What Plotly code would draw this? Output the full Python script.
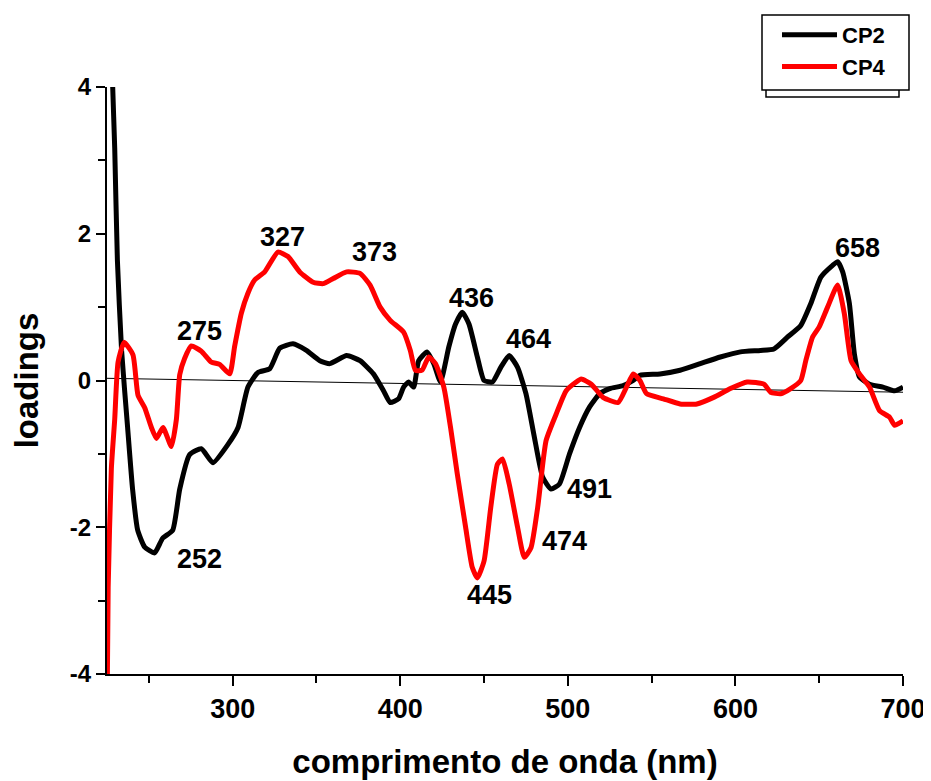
import plotly.graph_objects as go

# ---- data ----
wl_cp2 = [225, 228.4, 229.6, 231.2, 233.7, 237.3, 240.3, 243.3, 247.5, 253.4,
          258.2, 264.2, 268.4, 274.3, 281.3, 288.2, 297.2, 303.2, 309.1, 315.1,
          322.1, 328.1, 336, 344, 352, 358, 368, 376, 384, 390,
          394, 399, 402, 405, 408, 411, 416, 420, 424, 429,
          433, 437, 441, 446, 450, 455, 460, 465, 470, 475,
          480, 485, 490, 495, 501, 507, 513, 519, 525, 533,
          539, 543, 555, 567, 579, 591, 603, 615, 623, 631,
          639, 645, 651, 658, 661, 664, 668, 671, 674, 680,
          688, 695, 700]
cp2 = [7.0, 4.0, 3.17, 1.64, 0.41, -0.64, -1.49, -2.04, -2.27, -2.35,
       -2.15, -2.04, -1.48, -1.01, -0.93, -1.12, -0.87, -0.64, -0.09, 0.11,
       0.16, 0.44, 0.5, 0.41, 0.27, 0.23, 0.34, 0.27, 0.09, -0.14,
       -0.3, -0.25, -0.09, -0.02, -0.09, 0.27, 0.39, 0.23, -0.02, 0.46,
       0.77, 0.93, 0.77, 0.32, 0.0, -0.02, 0.18, 0.34, 0.18, -0.18,
       -0.77, -1.32, -1.48, -1.41, -1.0, -0.64, -0.36, -0.18, -0.11, -0.07,
       0.0, 0.07, 0.09, 0.14, 0.23, 0.32, 0.39, 0.41, 0.43, 0.59,
       0.75, 1.05, 1.41, 1.57, 1.62, 1.48, 1.05, 0.36, 0.05, -0.05,
       -0.09, -0.14, -0.09]

wl_cp4 = [225, 225.7, 227.6, 229.6, 231.6, 235.2, 240.5, 243.5, 247.5, 251.5,
          254.5, 258.4, 263.4, 266.4, 268.4, 271.3, 275.3, 281.3, 287.3, 292.2,
          298.2, 301.2, 305.2, 309.1, 313.1, 319.1, 327, 333, 340, 348,
          354, 360, 368, 376, 382, 388, 394, 402, 406, 409,
          413, 417, 421, 426, 430, 434, 439, 443, 446, 450,
          454, 458, 461, 465, 470, 474, 478, 482, 487, 493,
          499, 505, 508, 514, 521, 530, 535, 539, 543, 547,
          557, 567, 577, 587, 597, 607, 617, 621, 627, 633,
          639, 642, 646, 650, 655, 661, 665, 669, 674, 680,
          686, 692, 695, 700]
cp4 = [-4.6, -2.82, -1.2, -0.53, 0.25, 0.52, 0.35, -0.2, -0.37, -0.64,
       -0.79, -0.64, -0.9, -0.53, 0.08, 0.3, 0.47, 0.4, 0.25, 0.22,
       0.09, 0.47, 0.92, 1.19, 1.37, 1.48, 1.75, 1.69, 1.48, 1.34,
       1.32, 1.39, 1.48, 1.46, 1.3, 1.0, 0.82, 0.66, 0.41, 0.14,
       0.14, 0.32, 0.23, -0.09, -0.64, -1.27, -2.0, -2.55, -2.69, -2.46,
       -1.73, -1.14, -1.07, -1.41, -2.0, -2.41, -2.28, -1.73, -0.82, -0.46,
       -0.14, -0.02, 0.02, -0.05, -0.23, -0.3, -0.09, 0.09, 0.0, -0.18,
       -0.25, -0.32, -0.32, -0.23, -0.11, -0.02, -0.05, -0.16, -0.18, -0.11,
       0.0, 0.27, 0.59, 0.73, 1.0, 1.3, 0.91, 0.27, 0.09, -0.09,
       -0.41, -0.5, -0.61, -0.55]

baseline_x = [225, 700]
baseline_y = [0.03, -0.16]

peak_labels = ["252", "275", "327", "373", "436", "464", "491", "474", "445", "658"]
peak_label_x = [280.3, 280.3, 329.9, 384.8, 442.7, 476.3, 513.0, 498.2, 453.4, 672.7]
peak_label_y = [-2.43, 0.68, 1.95, 1.75, 1.13, 0.57, -1.48, -2.19, -2.93, 1.80]

x_tickvals = [300, 400, 500, 600, 700]
x_ticktext = ["300", "400", "500", "600", "700"]
x_minorvals = [250, 350, 450, 550, 650]
y_tickvals = [-4, -2, 0, 2, 4]
y_ticktext = ["-4", "-2", "0", "2", "4"]
y_minorvals = [-3, -1, 1, 3]

FONT = "Liberation Sans, Arial, sans-serif"

# The page body has an 8px margin, so the figure starts at (8, 8) on screen.
# Target plot area on screen: x 107..903, y 87..674.
OFF = 8
def px2paper_x(px):
    return (px - 107) / 796.0

def px2paper_y(py):
    return (674 - py) / 587.0

fig = go.Figure()
fig.add_trace(go.Scatter(x=baseline_x, y=baseline_y, mode="lines",
                         line=dict(color="black", width=1), showlegend=False,
                         hoverinfo="skip"))
fig.add_trace(go.Scatter(x=wl_cp2, y=cp2, mode="lines", name="CP2",
                         line=dict(color="black", width=5, shape="spline", smoothing=0.5)))
fig.add_trace(go.Scatter(x=wl_cp4, y=cp4, mode="lines", name="CP4",
                         line=dict(color="#ff0000", width=5, shape="spline", smoothing=0.5)))

for t, xx, yy in zip(peak_labels, peak_label_x, peak_label_y):
    fig.add_annotation(x=xx, y=yy, text=t, showarrow=False,
                       font=dict(family=FONT, size=27, color="black", weight="bold"))

# legend frame: shadow box then main box
fig.add_shape(type="rect", xref="paper", yref="paper",
              x0=px2paper_x(766), x1=px2paper_x(899),
              y0=px2paper_y(97), y1=px2paper_y(30),
              line=dict(color="black", width=1.5), fillcolor="white", layer="above")
fig.add_shape(type="rect", xref="paper", yref="paper",
              x0=px2paper_x(762), x1=px2paper_x(909),
              y0=px2paper_y(90), y1=px2paper_y(15),
              line=dict(color="black", width=1.5), fillcolor="white", layer="above")

fig.update_layout(
    width=931 - OFF, height=781 - OFF,
    margin=dict(l=107 - OFF, r=931 - 903, t=87 - OFF, b=781 - 674, autoexpand=False),
    paper_bgcolor="white", plot_bgcolor="white",
    font=dict(family=FONT, color="black"),
    showlegend=True,
    legend=dict(x=px2paper_x(777), y=px2paper_y(14), xanchor="left", yanchor="top",
                bgcolor="rgba(0,0,0,0)", borderwidth=0,
                font=dict(family=FONT, size=22, color="black", weight="bold"),
                itemwidth=55, tracegroupgap=0),
    xaxis=dict(range=[225, 700], showgrid=False, zeroline=False,
               showline=True, linecolor="black", linewidth=2,
               ticks="outside", ticklen=10, tickwidth=2, tickcolor="black",
               tickmode="array", tickvals=x_tickvals, ticktext=x_ticktext,
               minor=dict(tickmode="array", tickvals=x_minorvals, ticks="outside",
                          ticklen=7, tickwidth=2, tickcolor="black"),
               tickfont=dict(family=FONT, size=27, color="black", weight="bold"),
               title=dict(text="comprimento de onda (nm)", standoff=26,
                          font=dict(family=FONT, size=33, color="black", weight="bold"))),
    yaxis=dict(range=[-4, 4], showgrid=False, zeroline=False,
               showline=True, linecolor="black", linewidth=2,
               ticks="outside", ticklen=9, tickwidth=2, tickcolor="black",
               tickmode="array", tickvals=y_tickvals, ticktext=y_ticktext,
               minor=dict(tickmode="array", tickvals=y_minorvals, ticks="outside",
                          ticklen=7, tickwidth=2, tickcolor="black"),
               tickfont=dict(family=FONT, size=24, color="black", weight="bold"),
               title=dict(text="loadings", standoff=30,
                          font=dict(family=FONT, size=33, color="black", weight="bold"))),
)

fig.write_html("out.html")
